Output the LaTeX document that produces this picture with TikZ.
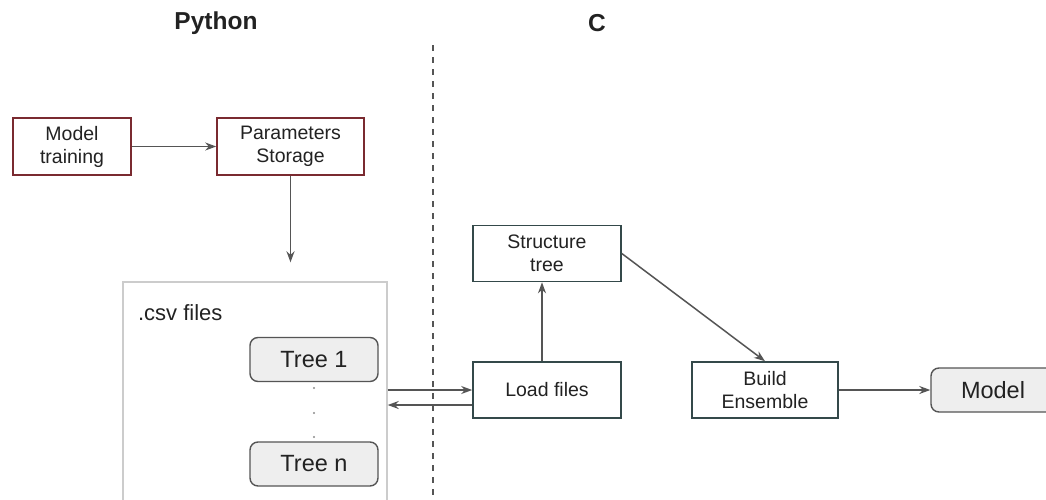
\documentclass[tikz,border=0pt]{standalone}
\usepackage{fontspec}
\setmainfont{Liberation Sans}
\usepackage{xcolor}
\usetikzlibrary{arrows.meta, positioning, calc}

\definecolor{pyred}{HTML}{7A2A30}
\definecolor{cslate}{HTML}{34494A}
\definecolor{linegray}{HTML}{555555}
\definecolor{treefill}{HTML}{EEEEEE}
\definecolor{txtgray}{HTML}{222222}

\tikzset{
    pybox/.style={draw=pyred, line width=0.8pt, align=center, minimum height=28.5pt, font=\fontsize{9.75}{11.5}\selectfont, text=txtgray, inner sep=1pt},
    cbox/.style={draw=cslate, line width=0.8pt, align=center, minimum width=74pt, minimum height=28pt, font=\fontsize{9.75}{11.5}\selectfont, text=txtgray, inner sep=1pt},
    treebox/.style={draw=linegray, fill=treefill, line width=0.7pt, rounded corners=4pt, minimum width=64pt, minimum height=22pt, font=\fontsize{11.75}{13}\selectfont, text=txtgray},
    flow/.style={->, draw=linegray, line width=0.75pt},
    title/.style={font=\bfseries\fontsize{12.25}{14}\selectfont, text=txtgray}
}

\begin{document}
\begin{tikzpicture}[x=0.5pt, y=-0.5pt, >={Stealth[length=5.5pt, width=4pt]}]
    \clip (0, 0) rectangle (1046, 499);
    \fill[white] (0, 0) rectangle (1046, 499);

    \node[title] (python) at (216, 23) {Python};
    \node[title] (clang) at (597, 23) {C};
    \draw[dashed, linegray, line width=0.6pt] (433, 45) -- (433, 499);

    \node[pybox, minimum width=59pt] (train) at (72, 146.5) {Model\\training};
    \node[pybox, minimum width=73.5pt] (params) at (290.5, 146.5) {Parameters\\Storage};

    \node[draw=black!20, line width=0.7pt, minimum width=132pt, minimum height=120pt] (csv) at (255, 402) {};
    \node[anchor=west, font=\fontsize{11}{13}\selectfont, text=txtgray] (csvlabel) at (131, 313) {.csv files};
    \node[treebox] (tree1) at (314, 359.5) {Tree 1};
    \node[treebox] (treen) at (314, 464) {Tree n};
    \foreach \y in {388, 413, 437}
        \fill[black!45] (314, \y) circle (0.6pt);

    \node[cbox] (struct) at (547, 253.5) {Structure\\tree};
    \node[cbox] (load) at (547, 390) {Load files};
    \node[cbox, minimum width=73pt] (build) at (765, 390) {Build\\Ensemble};
    \node[treebox, minimum width=62pt] (model) at (993, 390) {Model};

    \draw[flow] (train) -- (params);
    \draw[flow, shorten >=9.5pt] (params.south) -- (params.south |- csv.north);
    \draw[flow] (csv.east |- load.west) -- (load.west);
    \draw[flow] ([yshift=-7.5pt]load.west) -- ([yshift=-7.5pt]csv.east |- load.west);
    \draw[flow] ([xshift=-2.5pt]load.north) -- ([xshift=-2.5pt]struct.south);
    \draw[flow] (struct.east) -- (build.north);
    \draw[flow] (build) -- (model);
\end{tikzpicture}
\end{document}
